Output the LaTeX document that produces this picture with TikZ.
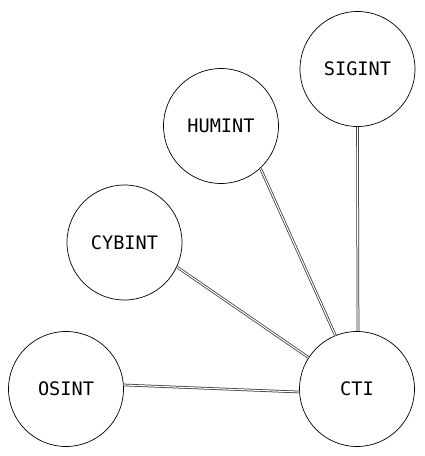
\documentclass[tikz,border=0pt]{standalone}
\usepackage{fontspec}
\setmonofont{DejaVu Sans Mono}
\usepackage{tikz}
\usetikzlibrary{positioning}

\begin{document}
\begin{tikzpicture}[
  x=1pt, y=1pt,
  intel/.style={draw, circle, minimum size=115pt, inner sep=0pt, line width=0.7pt,
    font=\ttfamily\fontsize{18.6}{20}\selectfont},
  link/.style={double=white, double distance=1.1pt, line width=0.75pt, draw=black!80}
]
\useasboundingbox (0,0) rectangle (424,456);
\node[intel] (cti)    at (357,67)    {CTI};
\node[intel] (osint)  at (66,67)     {OSINT};
\node[intel] (cybint) at (124.5,213.5) {CYBINT};
\node[intel] (humint) at (221,330)   {HUMINT};
\node[intel] (sigint) at (357.5,387) {SIGINT};
\draw[link] (osint.4.6)    -- (cti.183.3);
\draw[link] (cybint.-25.4) -- (cti.147.3);
\draw[link] (humint.-47.5) -- (cti.112.8);
\draw[link] (sigint.270)   -- (cti.89.5);
\end{tikzpicture}
\end{document}
